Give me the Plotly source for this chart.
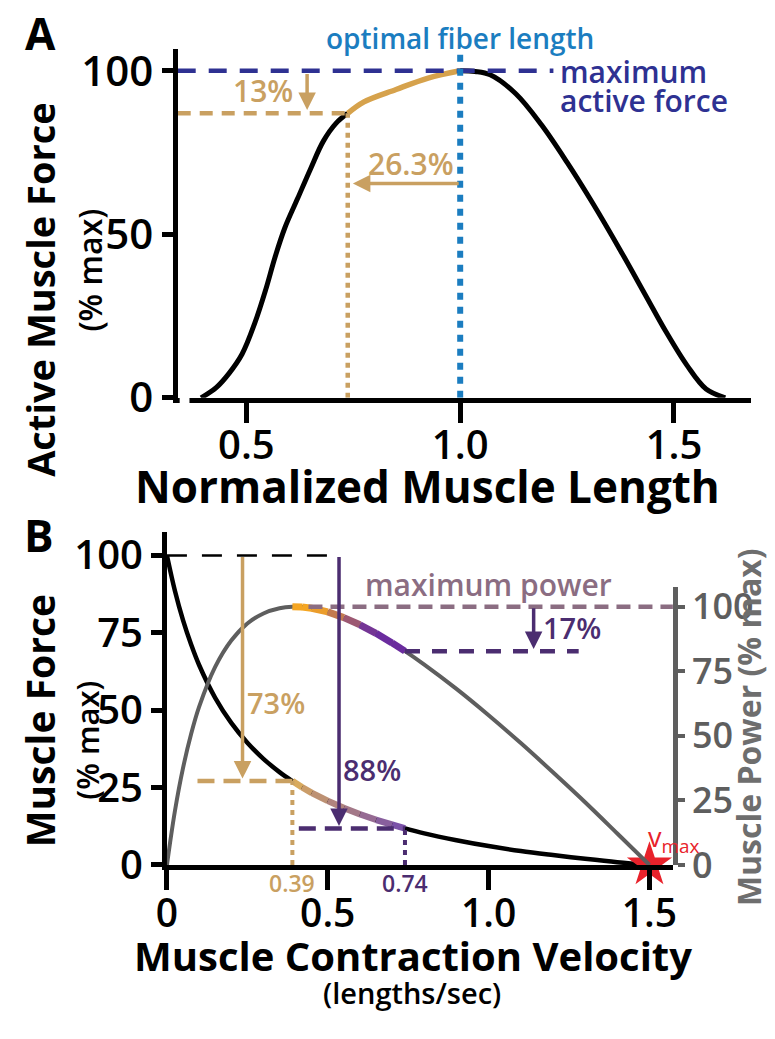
import plotly.graph_objects as go

# ---------------- Panel A data (force-length) ----------------
length_ascending = [0.394, 0.43, 0.459, 0.49, 0.52, 0.545, 0.567, 0.59, 0.62, 0.65, 0.68, 0.71, 0.737]
force_ascending = [0, 3.2, 7.4, 13.4, 23, 33, 43, 52, 61, 70, 78.5, 84, 87]
length_plateau = [0.737, 0.775, 0.85, 0.925, 1.0]
force_plateau = [87, 90.5, 94.3, 97.8, 100]
length_descending = [1.0, 1.035, 1.07, 1.13, 1.19, 1.25, 1.31, 1.375, 1.435, 1.48, 1.53, 1.575, 1.62]
force_descending = [100, 99.8, 98.8, 93, 83.5, 72, 59.5, 45, 31, 20.5, 10, 2.7, 0]
optimal_length = 1.0
short_length = 0.737
short_force = 87
max_force = 100
a_xticks = [0.5, 1.0, 1.5]
a_xticklabels = ["0.5", "1.0", "1.5"]
a_yticks = [0, 50, 100]

# ---------------- Panel B data (force-velocity, power) ----------------
velocity = [0, 0.025, 0.05, 0.075, 0.1, 0.15, 0.2, 0.25, 0.3, 0.35, 0.39, 0.42, 0.45, 0.5,
            0.55, 0.6, 0.65, 0.7, 0.74, 0.8, 0.9, 1.0, 1.1, 1.2, 1.3, 1.4, 1.5]
muscle_force = [100, 88.5, 79.1, 71.3, 64.6, 54.0, 45.9, 39.5, 34.3, 30.0, 27.1, 25.1, 23.3, 20.7,
                18.4, 16.4, 14.6, 13.0, 11.8, 10.2, 8.0, 6.1, 4.5, 3.2, 2.0, 0.9, 0]
muscle_power = [0, 21.0, 37.5, 50.6, 61.2, 76.7, 86.9, 93.5, 97.4, 99.4, 100, 99.9, 99.4, 98.0,
                95.8, 93.0, 89.7, 86.0, 82.8, 77.6, 68.2, 58.0, 47.2, 35.9, 24.3, 12.2, 0]
v_opt = 0.39
v_fast = 0.74
v_max = 1.5
b_xticks = [0, 0.5, 1.0, 1.5]
b_xticklabels = ["0", "0.5", "1.0", "1.5"]
b_yticks = [0, 25, 50, 75, 100]
power_ticks = [0, 25, 50, 75, 100]

# ---------------- styles ----------------
FONT = "Open Sans"
TAN = "#c9a061"
TAN_CURVE = "#d6a24c"
NAVY = "#2e3192"
BLUE = "#1b7dc0"
DPURPLE = "#4b2d70"
MAUVE = "#8b6d82"
ORANGE = "#f5a623"
PURPLE = "#6a2c9e"
LAV = "#7b52a8"
GRAY = "#5e5e5e"
RED = "#e8222b"
W, H = 775, 1039

# pixel geometry of the two panels
A_L, A_R, A_B, A_T = 170, 755, 404, 43
B_L, B_R, B_B, B_T = 159, 675, 887, 543
B_PTOP = 600


def P(px, py):
    return px / W, 1 - py / H


def mix(c1, c2, t):
    a = [int(c1[i:i + 2], 16) for i in (1, 3, 5)]
    b = [int(c2[i:i + 2], 16) for i in (1, 3, 5)]
    return "rgb(%d,%d,%d)" % tuple(round(a[k] + (b[k] - a[k]) * t) for k in range(3))


fig = go.Figure()

# ---- Panel A traces ----
line = dict(color="black", width=5, shape="spline")
fig.add_trace(go.Scatter(x=length_ascending, y=force_ascending, mode="lines", line=line, xaxis="x", yaxis="y"))
fig.add_trace(go.Scatter(x=length_descending, y=force_descending, mode="lines", line=line, xaxis="x", yaxis="y"))
fig.add_trace(go.Scatter(x=length_plateau, y=force_plateau, mode="lines",
                         line=dict(color=TAN_CURVE, width=5.5, shape="spline"), xaxis="x", yaxis="y"))
a_left = 0.3394
fig.add_trace(go.Scatter(x=[a_left, 1.218], y=[max_force, max_force], mode="lines",
                         line=dict(color=NAVY, width=4.5, dash="18px,13px"), xaxis="x", yaxis="y"))
fig.add_trace(go.Scatter(x=[a_left, short_length], y=[short_force, short_force], mode="lines",
                         line=dict(color=TAN, width=4.5, dash="13px,9px"), xaxis="x", yaxis="y"))
fig.add_trace(go.Scatter(x=[short_length, short_length], y=[0, short_force], mode="lines",
                         line=dict(color=TAN, width=4.5, dash="5px,5px"), xaxis="x", yaxis="y"))
fig.add_trace(go.Scatter(x=[optimal_length, optimal_length], y=[0, 106], mode="lines",
                         line=dict(color=BLUE, width=6, dash="7px,7px"), xaxis="x", yaxis="y"))

# ---- Panel B traces ----
fig.add_trace(go.Scatter(x=velocity, y=muscle_power, mode="lines",
                         line=dict(color=GRAY, width=4, shape="spline"), xaxis="x2", yaxis="y3"))
fig.add_trace(go.Scatter(x=velocity, y=muscle_force, mode="lines",
                         line=dict(color="black", width=4.5, shape="spline"), xaxis="x2", yaxis="y2"))

i0 = velocity.index(v_opt)
i1 = velocity.index(v_fast)
n = i1 - i0
for k in range(n):
    t = k / (n - 1)
    col = ORANGE if t < 0.25 else mix(ORANGE, PURPLE, min(1, (t - 0.25) / 0.5))
    fig.add_trace(go.Scatter(x=velocity[i0 + k:i0 + k + 2], y=muscle_power[i0 + k:i0 + k + 2], mode="lines",
                             line=dict(color=col, width=7), xaxis="x2", yaxis="y3"))
for k in range(n):
    t = k / (n - 1)
    fig.add_trace(go.Scatter(x=velocity[i0 + k:i0 + k + 2], y=muscle_force[i0 + k:i0 + k + 2], mode="lines",
                             line=dict(color=mix("#d8aa5e", LAV, t), width=6.5), xaxis="x2", yaxis="y2"))

f_opt = muscle_force[i0]
f_fast = muscle_force[i1]
p_fast = muscle_power[i1]
fig.add_trace(go.Scatter(x=[0, 0.535], y=[100, 100], mode="lines",
                         line=dict(color="black", width=2.5, dash="20px,15px"), xaxis="x2", yaxis="y2"))
fig.add_trace(go.Scatter(x=[0.095, v_opt], y=[f_opt, f_opt], mode="lines",
                         line=dict(color=TAN, width=4.5, dash="17px,9px"), xaxis="x2", yaxis="y2"))
fig.add_trace(go.Scatter(x=[v_opt, v_opt], y=[0, f_opt], mode="lines",
                         line=dict(color=TAN, width=4, dash="5px,5px"), xaxis="x2", yaxis="y2"))
fig.add_trace(go.Scatter(x=[0.41, v_fast], y=[f_fast, f_fast], mode="lines",
                         line=dict(color=DPURPLE, width=4.5, dash="17px,9px"), xaxis="x2", yaxis="y2"))
fig.add_trace(go.Scatter(x=[v_fast, v_fast], y=[0, f_fast], mode="lines",
                         line=dict(color=DPURPLE, width=4, dash="5px,5px"), xaxis="x2", yaxis="y2"))
fig.add_trace(go.Scatter(x=[0.44, 1.573], y=[100, 100], mode="lines",
                         line=dict(color=MAUVE, width=4.5, dash="14px,8px"), xaxis="x2", yaxis="y3"))
fig.add_trace(go.Scatter(x=[v_fast, 1.28], y=[p_fast, p_fast], mode="lines",
                         line=dict(color=DPURPLE, width=4.5, dash="15px,12px"), xaxis="x2", yaxis="y3"))
fig.add_trace(go.Scatter(x=[v_max], y=[0], mode="markers", cliponaxis=False,
                         marker=dict(symbol="star", size=34, color=RED, line=dict(width=0)),
                         xaxis="x2", yaxis="y2"))

ax_common = dict(showline=True, linewidth=5, linecolor="black", ticks="outside", tickwidth=5,
                 tickcolor="black", showgrid=False, zeroline=False,
                 tickfont=dict(family=FONT, size=42, color="black", weight=600))

fig.update_layout(
    width=W, height=H, margin=dict(l=0, r=0, t=0, b=0),
    paper_bgcolor="white", plot_bgcolor="rgba(0,0,0,0)", showlegend=False,
    font=dict(family=FONT, color="black"),
    xaxis=dict(ax_common, domain=[A_L / W, A_R / W], range=[a_left, 1.681], anchor="y",
               tickvals=a_xticks, ticktext=a_xticklabels, ticklen=20, ticklabelstandoff=-12,
               tickfont=dict(family=FONT, size=40, color="black", weight=600)),
    yaxis=dict(ax_common, domain=[1 - A_B / H, 1 - A_T / H], range=[0, 106.8], anchor="x",
               tickvals=a_yticks, ticklen=11),
    xaxis2=dict(ax_common, domain=[B_L / W, B_R / W], range=[0, 1.573], anchor="y2",
                tickvals=b_xticks, ticktext=b_xticklabels, ticklen=20, ticklabelstandoff=-10,
                tickfont=dict(family=FONT, size=39, color="black", weight=600)),
    yaxis2=dict(ax_common, domain=[1 - B_B / H, 1 - B_T / H], range=[0, 107.5], anchor="x2",
                tickvals=b_yticks, ticklen=11,
                tickfont=dict(family=FONT, size=40, color="black", weight=600)),
    yaxis3=dict(ax_common, domain=[1 - B_B / H, 1 - B_PTOP / H], range=[0, 107.5], anchor="x2",
                side="right", linecolor=GRAY, linewidth=4.5, tickcolor=GRAY, tickwidth=4,
                tickvals=power_ticks, ticklen=7,
                tickfont=dict(family=FONT, size=36, color=GRAY, weight=600)),
)

# small gap between the y axis and the x axis in panel A
x0, y0 = P(172, 401)
x1, y1 = P(182, 412)
fig.add_shape(type="rect", xref="paper", yref="paper", x0=x0, x1=x1, y0=y1, y1=y0,
              fillcolor="white", line=dict(width=0), layer="above")

ann = []


def text(s, px, py, size, color="black", weight=700, angle=0, xanchor="center"):
    x, y = P(px, py)
    ann.append(dict(text=s, x=x, y=y, xref="paper", yref="paper", showarrow=False, textangle=angle,
                    xanchor=xanchor, yanchor="middle",
                    font=dict(family=FONT, size=size, color=color, weight=weight)))


def dtext(s, x, y, xr, yr, size, color, weight=600, xanchor="center"):
    ann.append(dict(text=s, x=x, y=y, xref=xr, yref=yr, showarrow=False, xanchor=xanchor,
                    yanchor="middle", font=dict(family=FONT, size=size, color=color, weight=weight)))


def arrow(x, y, axv, ayv, xr, yr, color, width=3.5):
    ann.append(dict(text="", x=x, y=y, ax=axv, ay=ayv, xref=xr, yref=yr, axref=xr, ayref=yr,
                    showarrow=True, arrowhead=2, arrowsize=1.0, arrowwidth=width, arrowcolor=color,
                    standoff=0, startstandoff=0))


def a_px(v):
    return A_L + (v - a_left) / (1.681 - a_left) * (A_R - A_L)


def b_px(v):
    return B_L + v / 1.573 * (B_R - B_L)


# panel letters & titles
text("A", 30, 27, 44)
text("B", 29, 546, 44)
text("Normalized Muscle Length", 425, 495, 44)
text("Active Muscle Force", 30, 292, 38, angle=-90)
text("(% max)", 80, 272, 32, weight=600, angle=-90)
text("Muscle Contraction Velocity", 410, 981, 40)
text("(lengths/sec)", 409, 1019, 29, weight=600)
text("Muscle Force", 29, 738, 39, angle=-90)
text("(% max)", 78, 758, 31, weight=600, angle=-90)
text("Muscle Power (% max)", 752, 744, 32, color="#6e6e6e", angle=-90)

# panel A annotations
text("optimal fiber length", a_px(optimal_length), 32, 28, color=BLUE, weight=600)
dtext("maximum", 1.229, 99.8, "x", "y", 30, NAVY, xanchor="left")
dtext("active force", 1.229, 90.9, "x", "y", 30, NAVY, xanchor="left")
dtext("13%", 0.54, 94, "x", "y", 30, TAN)
arrow(0.642, short_force + 1, 0.642, 99.5, "x", "y", TAN)
dtext("26.3%", 0.885, 71.7, "x", "y", 30, TAN)
arrow(short_length + 0.012, 65.5, optimal_length, 65.5, "x", "y", TAN)

# panel B annotations
arrow(0.235, f_opt + 0.8, 0.235, 100, "x2", "y2", TAN)
dtext("73%", 0.338, 52.5, "x2", "y2", 29, TAN)
arrow(0.535, f_fast + 0.8, 0.535, 100, "x2", "y2", DPURPLE)
dtext("88%", 0.637, 30.9, "x2", "y2", 29, DPURPLE)
dtext("maximum power", 1.0, 90.6, "x2", "y2", 30, MAUVE)
arrow(1.14, p_fast + 0.8, 1.14, 100, "x2", "y3", DPURPLE)
dtext("17%", 1.259, 92.1, "x2", "y3", 29, DPURPLE)
text("0.39", b_px(v_opt), 906, 23, color=TAN, weight=600)
text("0.74", b_px(v_fast), 906, 23, color=DPURPLE, weight=600)
dtext("v<sub>max</sub>", 1.488, 8.5, "x2", "y2", 27, RED, weight=400, xanchor="left")

fig.update_layout(annotations=ann)
fig.write_html("out.html")
